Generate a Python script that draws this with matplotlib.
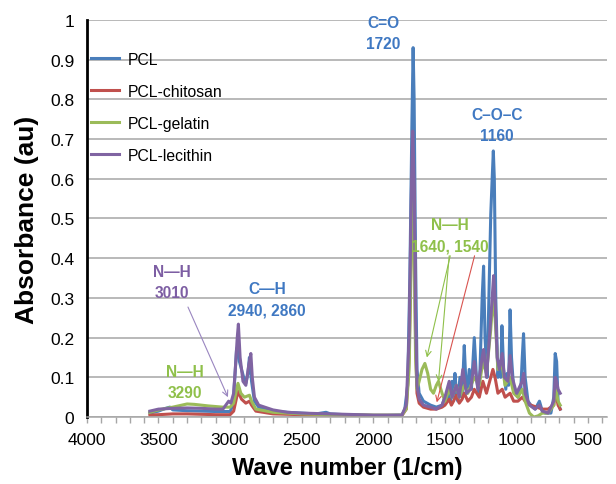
import numpy as np
import matplotlib
matplotlib.use('Agg')
import matplotlib.pyplot as plt
from matplotlib.ticker import MultipleLocator

plt.rcParams['font.family'] = ['Liberation Sans', 'DejaVu Sans']

# spectra: wave number (1/cm) and absorbance (au)
pcl_wn = [3560, 3500, 3450, 3420, 3400, 3300, 3200, 3100, 3000, 2980, 2965, 2955, 2945, 2935,
          2920, 2905, 2890, 2875, 2865, 2850, 2830, 2800, 2700, 2600, 2500, 2400, 2330, 2300,
          2200, 2100, 2000, 1900, 1800, 1780, 1760, 1745, 1730, 1722, 1715, 1705, 1695, 1680,
          1650, 1600, 1560, 1520, 1500, 1485, 1470, 1460, 1450, 1440, 1430, 1420, 1410, 1395,
          1380, 1365, 1355, 1345, 1330, 1315, 1295, 1280, 1265, 1255, 1240, 1230, 1220, 1205,
          1190, 1180, 1170, 1162, 1155, 1145, 1130, 1120, 1110, 1102, 1090, 1075, 1065, 1055,
          1045, 1035, 1020, 1010, 990, 970, 960, 951, 940, 920, 900, 870, 840, 820, 800, 760,
          740, 730, 720, 710, 700, 695]
pcl_abs = [0.010, 0.015, 0.022, 0.025, 0.018, 0.016, 0.015, 0.014, 0.014, 0.030, 0.110, 0.170,
           0.180, 0.140, 0.120, 0.100, 0.085, 0.110, 0.150, 0.090, 0.040, 0.025, 0.015, 0.012,
           0.010, 0.008, 0.012, 0.008, 0.006, 0.005, 0.004, 0.004, 0.005, 0.020, 0.080, 0.350,
           0.750, 0.930, 0.800, 0.400, 0.120, 0.060, 0.040, 0.030, 0.025, 0.030, 0.050, 0.040,
           0.080, 0.040, 0.090, 0.050, 0.110, 0.060, 0.040, 0.100, 0.050, 0.180, 0.100, 0.060,
           0.120, 0.070, 0.200, 0.100, 0.060, 0.120, 0.300, 0.380, 0.200, 0.100, 0.350, 0.510,
           0.600, 0.670, 0.600, 0.300, 0.100, 0.140, 0.100, 0.230, 0.120, 0.070, 0.110, 0.080,
           0.270, 0.150, 0.070, 0.060, 0.050, 0.070, 0.150, 0.210, 0.100, 0.040, 0.030, 0.020,
           0.040, 0.015, 0.010, 0.010, 0.050, 0.160, 0.140, 0.040, 0.025, 0.020]

chit_wn = [3560, 3500, 3400, 3300, 3200, 3100, 3000, 2975, 2960, 2945, 2920, 2890, 2865, 2850,
           2820, 2700, 2500, 2300, 2000, 1800, 1770, 1750, 1735, 1725, 1715, 1705, 1695, 1680,
           1650, 1600, 1560, 1520, 1500, 1470, 1455, 1440, 1420, 1400, 1380, 1365, 1340, 1315,
           1295, 1260, 1235, 1210, 1180, 1165, 1150, 1130, 1100, 1080, 1045, 1020, 990, 960,
           940, 900, 860, 820, 780, 740, 730, 720, 710, 695]
chit_abs = [0.005, 0.006, 0.008, 0.008, 0.007, 0.006, 0.006, 0.015, 0.040, 0.065, 0.045, 0.035,
            0.040, 0.030, 0.015, 0.008, 0.006, 0.005, 0.004, 0.004, 0.020, 0.150, 0.450, 0.650,
            0.550, 0.200, 0.060, 0.035, 0.025, 0.020, 0.020, 0.025, 0.030, 0.045, 0.030, 0.040,
            0.055, 0.035, 0.045, 0.060, 0.040, 0.050, 0.070, 0.050, 0.090, 0.060, 0.100, 0.120,
            0.100, 0.060, 0.070, 0.050, 0.060, 0.040, 0.040, 0.050, 0.040, 0.030, 0.025, 0.020,
            0.020, 0.030, 0.060, 0.050, 0.030, 0.020]

gel_wn = [3560, 3500, 3400, 3300, 3250, 3150, 3050, 3000, 2975, 2960, 2945, 2925, 2900, 2865,
          2850, 2820, 2700, 2500, 2300, 2000, 1800, 1770, 1750, 1735, 1725, 1715, 1705, 1695,
          1680, 1660, 1640, 1620, 1600, 1580, 1560, 1545, 1520, 1500, 1470, 1450, 1420, 1400,
          1365, 1340, 1295, 1260, 1235, 1210, 1180, 1165, 1150, 1130, 1100, 1080, 1045, 1020,
          990, 960, 940, 910, 880, 850, 820, 780, 740, 730, 720, 710, 695]
gel_abs = [0.012, 0.018, 0.025, 0.033, 0.032, 0.028, 0.025, 0.025, 0.035, 0.060, 0.085, 0.060,
           0.050, 0.055, 0.040, 0.020, 0.012, 0.008, 0.006, 0.005, 0.005, 0.020, 0.120, 0.400,
           0.550, 0.450, 0.150, 0.070, 0.090, 0.120, 0.135, 0.110, 0.070, 0.060, 0.080, 0.090,
           0.060, 0.040, 0.070, 0.050, 0.080, 0.050, 0.080, 0.060, 0.100, 0.080, 0.140, 0.110,
           0.220, 0.300, 0.250, 0.120, 0.130, 0.080, 0.100, 0.060, 0.050, 0.070, 0.040, 0.010,
           0.000, 0.003, 0.010, 0.010, 0.030, 0.070, 0.060, 0.040, 0.030]

lec_wn = [3560, 3500, 3400, 3300, 3200, 3100, 3050, 3020, 3010, 2995, 2975, 2960, 2950, 2942,
          2930, 2910, 2890, 2870, 2855, 2845, 2830, 2800, 2700, 2600, 2500, 2300, 2000, 1800,
          1770, 1750, 1735, 1725, 1715, 1705, 1695, 1680, 1650, 1600, 1560, 1520, 1500, 1470,
          1450, 1420, 1400, 1375, 1350, 1320, 1295, 1270, 1240, 1230, 1210, 1185, 1170, 1160,
          1150, 1135, 1120, 1100, 1085, 1060, 1045, 1030, 1000, 960, 950, 940, 910, 870, 840,
          820, 780, 740, 730, 720, 710, 695]
lec_abs = [0.015, 0.020, 0.022, 0.023, 0.022, 0.020, 0.020, 0.035, 0.040, 0.035, 0.060, 0.140,
           0.200, 0.234, 0.150, 0.090, 0.080, 0.130, 0.160, 0.100, 0.050, 0.030, 0.018, 0.012,
           0.010, 0.008, 0.005, 0.005, 0.030, 0.200, 0.550, 0.720, 0.600, 0.250, 0.080, 0.045,
           0.030, 0.025, 0.020, 0.030, 0.050, 0.090, 0.050, 0.080, 0.050, 0.120, 0.060, 0.070,
           0.140, 0.070, 0.150, 0.170, 0.100, 0.220, 0.300, 0.356, 0.300, 0.150, 0.120, 0.160,
           0.100, 0.090, 0.155, 0.100, 0.060, 0.090, 0.110, 0.060, 0.030, 0.020, 0.030, 0.015,
           0.010, 0.040, 0.100, 0.090, 0.070, 0.060]

series = [
    ('PCL', pcl_wn, pcl_abs, '#4a7ebb'),
    ('PCL-chitosan', chit_wn, chit_abs, '#c0504d'),
    ('PCL-gelatin', gel_wn, gel_abs, '#9bbb59'),
    ('PCL-lecithin', lec_wn, lec_abs, '#8064a2'),
]

fig = plt.figure(figsize=(6.16, 4.85), dpi=100)
ax = fig.add_axes([0.141, 0.138, 0.844, 0.819])

for name, wn, ab, col in series:
    ax.plot(wn, ab, color=col, lw=2.2, label=name, solid_joinstyle='round')

ax.set_xlim(4000, 370)
ax.set_ylim(0, 1)
ax.xaxis.set_major_locator(MultipleLocator(500))
ax.xaxis.set_minor_locator(MultipleLocator(100))
ax.set_yticks(np.arange(0, 1.01, 0.1))
ax.set_yticklabels(['0', '0.1', '0.2', '0.3', '0.4', '0.5', '0.6', '0.7', '0.8', '0.9', '1'])

ax.grid(axis='y', color='#a6a6a6', lw=1.1)
ax.set_axisbelow(True)
for s in ['top', 'right']:
    ax.spines[s].set_visible(False)
ax.spines['left'].set_color('black')
ax.spines['left'].set_linewidth(2.0)
ax.spines['bottom'].set_color('#a6a6a6')
ax.spines['bottom'].set_linewidth(1.1)

ax.tick_params(axis='x', which='both', direction='out', color='#a6a6a6', length=4,
               width=1, labelsize=12.5, pad=7)
ax.tick_params(axis='y', length=0, labelsize=12.5, pad=9)

ax.set_xlabel('Wave number (1/cm)', fontsize=17, fontweight='bold', labelpad=6)
ax.set_ylabel('Absorbance (au)', fontsize=19, fontweight='bold', labelpad=8)

leg = ax.legend(loc='upper left', bbox_to_anchor=(-0.005, 0.935), frameon=False, fontsize=11.3,
                handlelength=1.8, handletextpad=0.6, labelspacing=1.08, borderaxespad=0)

blue_t = '#3f78c2'
green_t = '#8fc04a'
purple_t = '#7d5ea3'
red_l = '#d9534f'

ax.text(1932, 0.967, 'C=O\n1720', color=blue_t, fontsize=11.2, fontweight='bold',
        ha='center', va='center', linespacing=1.5)
ax.text(1135, 0.735, 'C\u2013O\u2013C\n1160', color=blue_t, fontsize=11.2, fontweight='bold',
        ha='center', va='center', linespacing=1.5)
ax.text(2742, 0.297, 'C\u2014H\n2940, 2860', color=blue_t, fontsize=11.2, fontweight='bold',
        ha='center', va='center', linespacing=1.5)
ax.text(1463, 0.458, 'N\u2014H\n1640, 1540', color=green_t, fontsize=11.2, fontweight='bold',
        ha='center', va='center', linespacing=1.5)
ax.text(3406, 0.34, 'N\u2014H\n3010', color=purple_t, fontsize=11.2, fontweight='bold',
        ha='center', va='center', linespacing=1.5)
ax.text(3315, 0.088, 'N\u2014H\n3290', color=green_t, fontsize=11.2, fontweight='bold',
        ha='center', va='center', linespacing=1.5)

arrows = [
    ((3294, 0.277), (3015, 0.05), '#9a86c0'),
    ((1463, 0.406), (1626, 0.15), green_t),
    ((1470, 0.406), (1545, 0.089), green_t),
    ((1293, 0.406), (1557, 0.037), red_l),
]
for tail, head, col in arrows:
    ax.annotate('', xy=head, xytext=tail,
                arrowprops=dict(arrowstyle='->', color=col, lw=0.8, shrinkA=0, shrinkB=0))

fig.savefig('out.png', dpi=100)
